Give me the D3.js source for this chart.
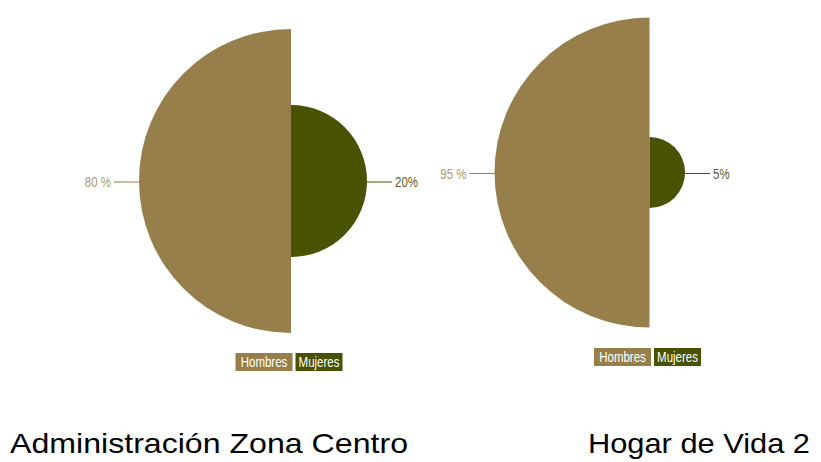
<!DOCTYPE html>
<html>
<head>
<meta charset="utf-8">
<script src="https://cdn.jsdelivr.net/npm/d3@7"></script>
<style>
  body { margin: 0; background: #fff; }
  .lbl { font-family: "Liberation Sans", Arial, sans-serif; }
  .title { font-family: "Liberation Sans", Arial, sans-serif; }
</style>
</head>
<body>
<div id="chart"></div>
<script>
// data
var chartTitles = ["Administración Zona Centro", "Hogar de Vida 2"];
var categories = ["Hombres", "Mujeres"];
var hombres = [80, 95];
var mujeres = [20, 5];
var hombresLabels = ["80 %", "95 %"];
var mujeresLabels = ["20%", "5%"];

var colors = { Hombres: "#967f4b", Mujeres: "#485200" };
var labelColors = { Hombres: "#b09a68", Mujeres: "#5b5b2e" };

var svgWidth = 821;
var svgHeight = 462;

// layout of each half-pie panel
var panels = [
  { cx: 291, cy: 181, R: 152, legendY: 353, titleX: 10, titleW: 398 },
  { cx: 649.5, cy: 172.5, R: 155, legendY: 348, titleX: 588, titleW: 222 }
];

// narrow text helper (the original uses a condensed face)
var squeeze = 0.82;

var svg = d3.select("#chart")
  .append("svg")
  .attr("width", svgWidth)
  .attr("height", svgHeight);

panels.forEach(function(p, i) {
  var g = svg.append("g")
    .attr("transform", `translate(${p.cx}, ${p.cy})`);

  var maxVal = Math.max(hombres[i], mujeres[i]);
  var rScale = d3.scaleSqrt().domain([0, maxVal]).range([0, p.R]);

  var slices = [
    { cat: "Hombres", value: hombres[i], label: hombresLabels[i], start: Math.PI, end: 2 * Math.PI, side: -1 },
    { cat: "Mujeres", value: mujeres[i], label: mujeresLabels[i], start: 0, end: Math.PI, side: 1 }
  ];

  var arc = d3.arc().innerRadius(0);

  g.selectAll("path")
    .data(slices)
    .enter()
    .append("path")
    .attr("d", d => arc({ outerRadius: rScale(d.value), startAngle: d.start, endAngle: d.end }))
    .attr("fill", d => colors[d.cat]);

  // leader lines
  g.selectAll("line.lead")
    .data(slices)
    .enter()
    .append("line")
    .attr("class", "lead")
    .attr("x1", d => d.side * rScale(d.value))
    .attr("x2", d => d.side * (rScale(d.value) + 25))
    .attr("y1", 1)
    .attr("y2", 1)
    .attr("stroke", d => colors[d.cat])
    .attr("stroke-width", 1);

  g.selectAll("text.val")
    .data(slices)
    .enter()
    .append("text")
    .attr("class", "val lbl")
    .attr("transform", d => `translate(${d.side * (rScale(d.value) + 28)}, 1) scale(${squeeze}, 1)`)
    .attr("dy", "0.36em")
    .attr("text-anchor", d => d.side < 0 ? "end" : "start")
    .attr("font-size", "14px")
    .attr("fill", d => labelColors[d.cat])
    .text(d => d.label);

  // legend
  var legend = svg.append("g");
  var boxW = [57, 47];
  var gap = 3;
  var totalW = boxW[0] + gap + boxW[1];
  var lx = p.cx - 2 - totalW / 2;
  categories.forEach(function(c, k) {
    var x0 = lx + (k === 0 ? 0 : boxW[0] + gap);
    legend.append("rect")
      .attr("x", x0)
      .attr("y", p.legendY)
      .attr("width", boxW[k])
      .attr("height", 18)
      .attr("fill", colors[c]);
    legend.append("text")
      .attr("class", "lbl")
      .attr("transform", `translate(${x0 + boxW[k] / 2}, ${p.legendY + 9}) scale(${squeeze}, 1)`)
      .attr("dy", "0.36em")
      .attr("text-anchor", "middle")
      .attr("font-size", "14px")
      .attr("fill", "#fff")
      .text(c);
  });

  svg.append("text")
    .attr("class", "title")
    .attr("x", p.titleX)
    .attr("y", 453)
    .attr("font-size", "28px")
    .attr("textLength", p.titleW)
    .attr("lengthAdjust", "spacingAndGlyphs")
    .attr("fill", "#000")
    .text(chartTitles[i]);
});
</script>
</body>
</html>
